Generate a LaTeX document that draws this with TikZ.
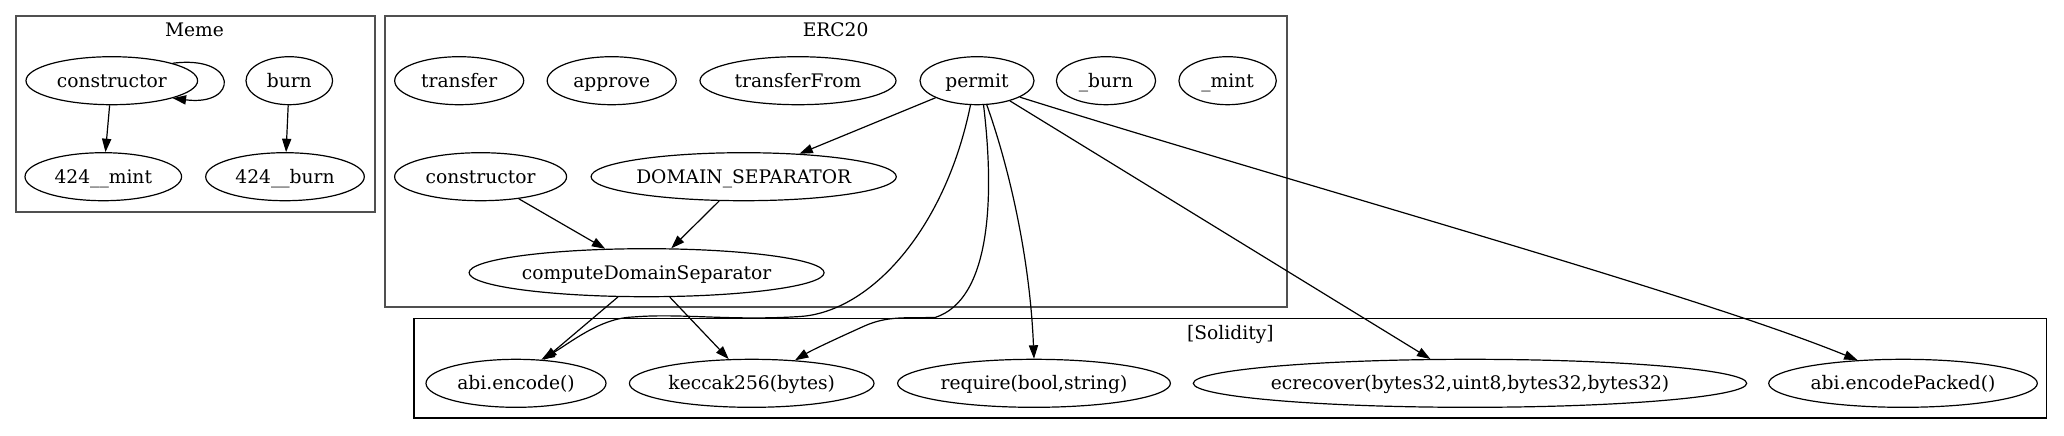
\documentclass[tikz,border=0pt]{standalone}
\usepackage{fontspec}
\setmainfont{DejaVu Serif}
\usetikzlibrary{arrows.meta,shapes.geometric,calc}
\definecolor{clgray}{RGB}{80,80,80}
\newcommand{\zb}[1]{\makebox[0pt][c]{#1}}
\begin{document}
\begin{tikzpicture}[x=0.5pt,y=-0.5pt,
  fn/.style={ellipse,draw,line width=0.6pt,inner sep=0pt,minimum height=24pt,
    text height=8.2pt,text depth=1.6pt,font=\fontsize{9.33}{11}\selectfont},
  edge/.style={line width=0.6pt,-{Triangle[length=6.7pt,width=4.6pt]}},
  clusterg/.style={draw=clgray,line width=1pt},
  clusterb/.style={draw=black,line width=0.6pt},
  clabel/.style={anchor=base,inner sep=0pt,font=\fontsize{9.33}{11}\selectfont}]
\useasboundingbox (0,0) rectangle (2064,435);
\fill[white] (0,0) rectangle (2064,435);

% clusters
\draw[clusterg] (15.6,15.7) rectangle (375,211.7);
\draw[clusterg] (384.7,15.7) rectangle (1286.6,307.3);
\draw[clusterb] (414,318.3) rectangle (2046.8,418);
\node[clabel] (lmeme) at (194.5,36) {Meme};
\node[clabel] (lerc) at (835.6,36) {ERC20};
\node[clabel] (lsol) at (1230.4,339.3) {[Solidity]};

% Meme
\node[fn,minimum width=85.8pt] (mc) at (111.8,80.7) {\zb{constructor}};
\node[fn,minimum width=43.3pt] (mburn) at (289.3,80.7) {\zb{burn}};
\node[fn,minimum width=78.3pt] (mmint) at (103.3,176.7) {\zb{424\_\_mint}};
\node[fn,minimum width=79.3pt] (mbrn) at (285,176.7) {\zb{424\_\_burn}};

% ERC20
\node[fn,minimum width=64.5pt] (transfer) at (459.2,80.7) {\zb{transfer}};
\node[fn,minimum width=64.5pt] (approve) at (611.7,80.7) {\zb{approve}};
\node[fn,minimum width=98pt] (tfrom) at (798,80.7) {\zb{transferFrom}};
\node[fn,minimum width=57pt] (permit) at (977,80.7) {\zb{permit}};
\node[fn,minimum width=49.6pt] (eburn) at (1106,80.7) {\zb{\_burn}};
\node[fn,minimum width=48.7pt] (emint) at (1227.6,80.7) {\zb{\_mint}};
\node[fn,minimum width=86pt] (ec) at (480.6,176.7) {\zb{constructor}};
\node[fn,minimum width=152.6pt] (ds) at (743.7,176.7) {\zb{DOMAIN\_SEPARATOR}};
\node[fn,minimum width=177.5pt] (cds) at (646.6,272.7) {\zb{computeDomainSeparator}};

% Solidity
\node[fn,minimum width=90pt] (abi) at (516,383.3) {\zb{abi.encode()}};
\node[fn,minimum width=122.3pt] (kec) at (751.7,383.3) {\zb{keccak256(bytes)}};
\node[fn,minimum width=136.4pt] (req) at (1034,383.3) {\zb{require(bool,string)}};
\node[fn,minimum width=276.7pt] (ecr) at (1470,383.3) {\zb{ecrecover(bytes32,uint8,bytes32,bytes32)}};
\node[fn,minimum width=134.3pt] (pack) at (1903,383.3) {\zb{abi.encodePacked()}};

% edges
\draw[edge] (mc.16.6) .. controls ($(mc.east)+(41,-26)$) and ($(mc.east)+(41,26)$) .. (mc.-16.8);
\draw[edge] (mc) -- (mmint);
\draw[edge] (mburn) -- (mbrn);
\draw[edge] (ec) -- (cds);
\draw[edge] (ds) -- (cds);
\draw[edge] (permit) -- (ds);
\draw[edge] (cds) -- (abi);
\draw[edge] (cds) -- (kec);
\draw[edge] (permit) -- (ecr);
\draw[edge] (permit.-68) .. controls (1010,170) and (1030,260) .. (req.north);
\draw[edge] (permit.-75.5) .. controls (995,200) and (990,300) .. (935,317.5)
  .. controls (900,318) and (885,316) .. (860,328)
  .. controls (840,337) and (812,350) .. (kec.28.6);
\draw[edge] (permit.-105.4) .. controls (945,230) and (870,312) .. (800,316.5)
  .. controls (730,321) and (680,313) .. (633,317)
  .. controls (600,318) and (570,343) .. (abi.43.4);
\draw[edge] (permit.-21.1) .. controls (1300,185) and (1690,292) .. (pack.153.6);
\end{tikzpicture}
\end{document}
